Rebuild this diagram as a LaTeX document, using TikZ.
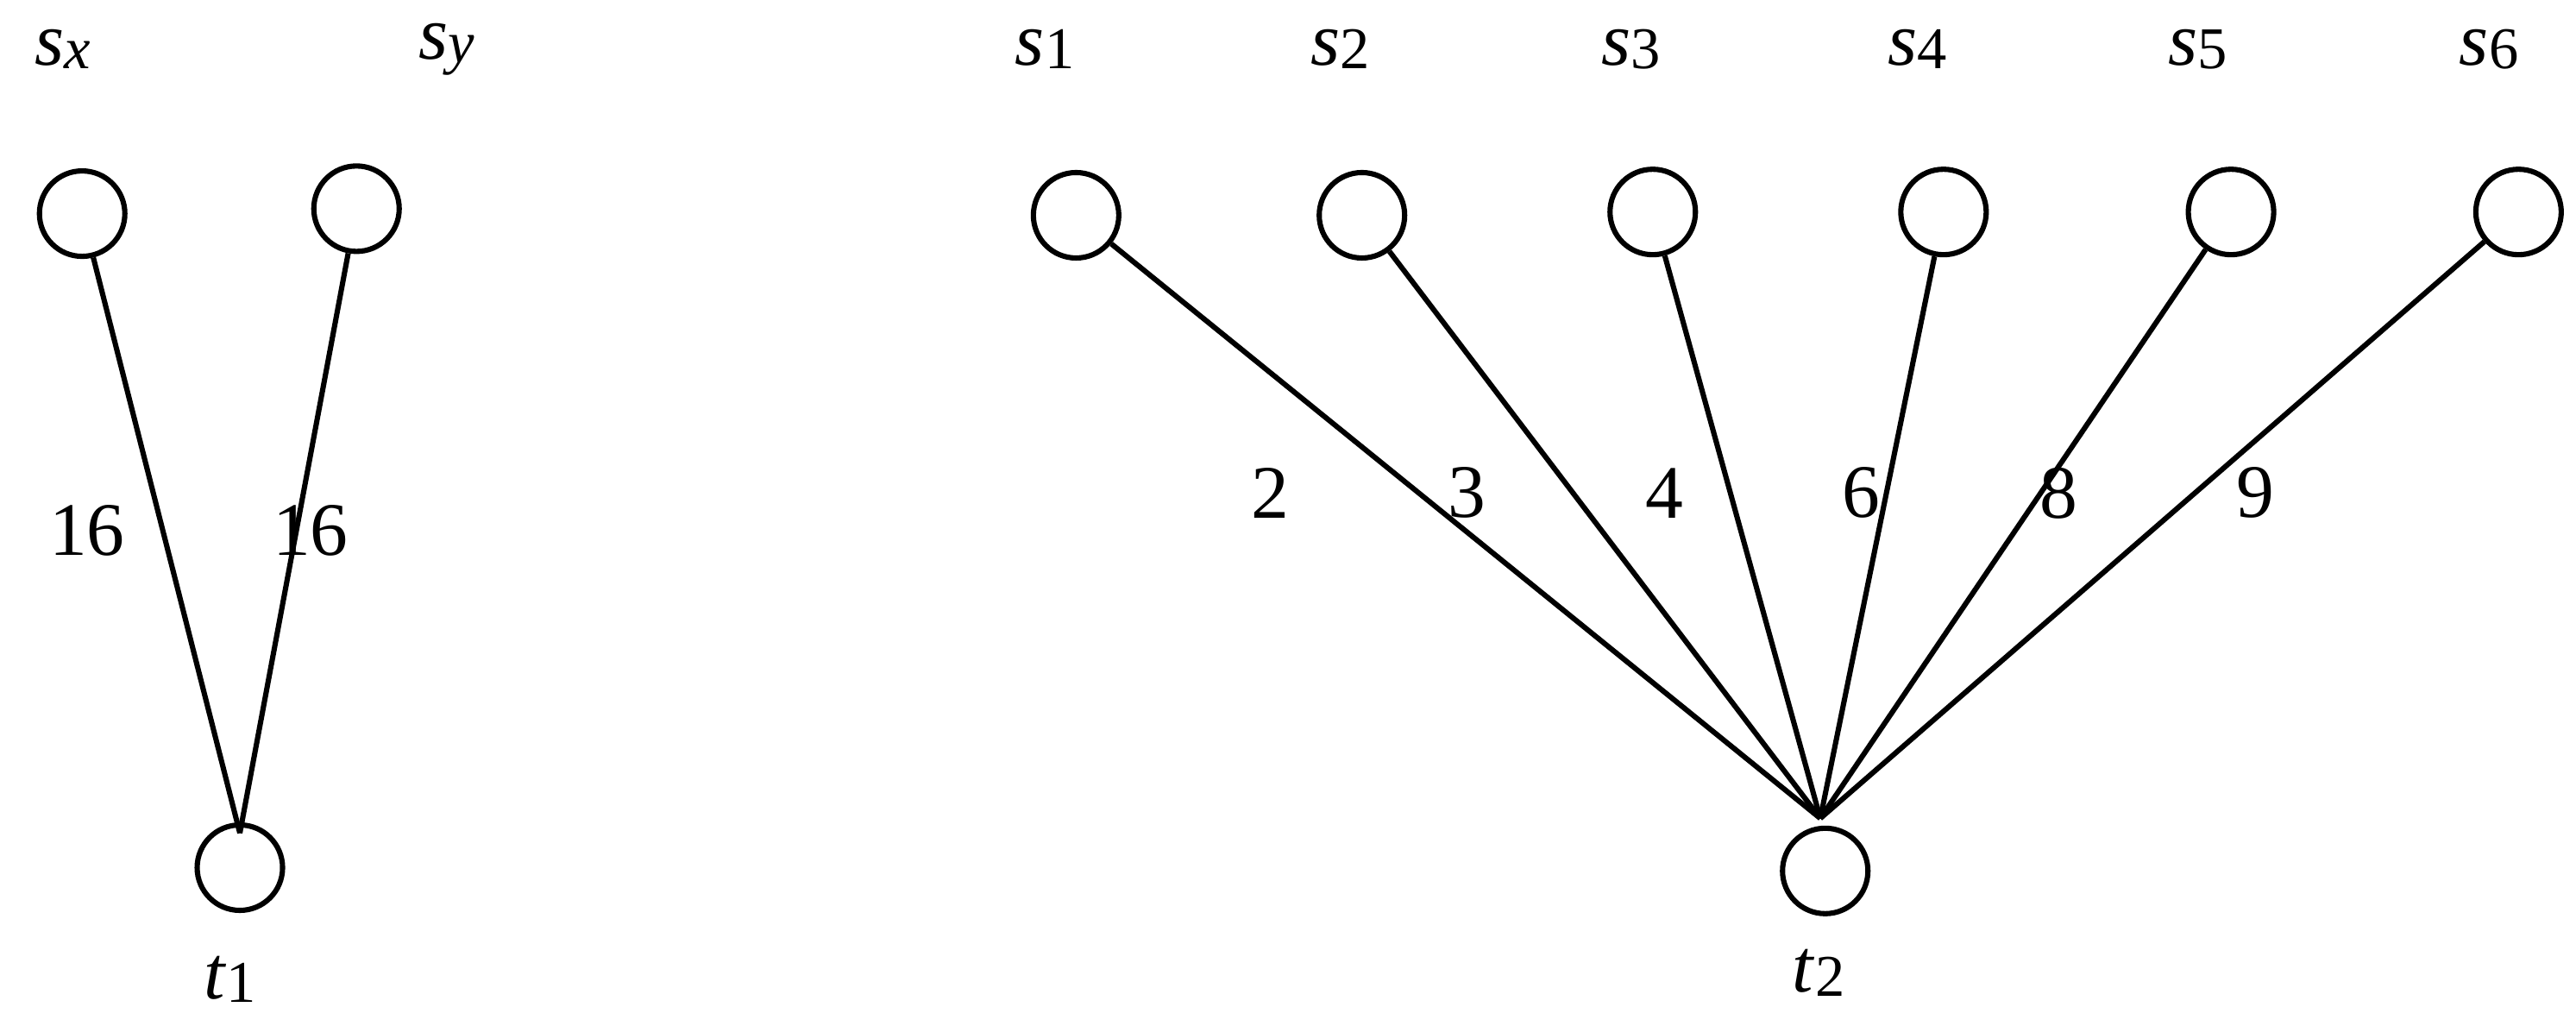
\documentclass[tikz,border=0pt]{standalone}
\usepackage{fontspec}
\setmainfont{Liberation Serif}
\newcommand{\lbl}[2]{\textit{#1}\raisebox{-0.05em}{\fontsize{36}{38}\selectfont #2}}
\begin{document}
\begin{tikzpicture}[x=1pt,y=-1pt,
  vtx/.style={circle,draw,line width=3.2pt,minimum size=52pt,inner sep=0pt},
  edge/.style={line width=3.2pt},
  txt/.style={font=\fontsize{46}{50}\selectfont,inner sep=0pt}]
\useasboundingbox (0,0) rectangle (1568,624);
\node[vtx] (sx) at (50,130) {};
\node[vtx] (sy) at (217,127) {};
\node[vtx] (t1) at (146,528) {};
\node[vtx] (s1) at (655,131) {};
\node[vtx] (s2) at (829,131) {};
\node[vtx] (s3) at (1006,129) {};
\node[vtx] (s4) at (1183,129) {};
\node[vtx] (s5) at (1358,129) {};
\node[vtx] (s6) at (1533,129) {};
\node[vtx] (t2) at (1111,530) {};
\coordinate (a1) at (146,507);
\coordinate (a2) at (1108,498);
\draw[edge] (sx) -- (a1);
\draw[edge] (sy) -- (a1);
\foreach \n in {s1,s2,s3,s4,s5,s6} \draw[edge] (\n) -- (a2);
\node[txt] (lx) at (38,30) {\lbl{s}{\textit{x}}};
\node[txt] (ly) at (272,30) {\lbl{s}{\textit{y}}};
\node[txt] (l1) at (636,30) {\lbl{s}{1}};
\node[txt] (l2) at (816,30) {\lbl{s}{2}};
\node[txt] (l3) at (993,30) {\lbl{s}{3}};
\node[txt] (l4) at (1167,30) {\lbl{s}{4}};
\node[txt] (l5) at (1338,30) {\lbl{s}{5}};
\node[txt] (l6) at (1515,30) {\lbl{s}{6}};
\node[txt] (lt1) at (140,596) {\lbl{t}{1}};
\node[txt] (lt2) at (1107,592) {\lbl{t}{2}};
\node[txt] (w1) at (53,323) {16};
\node[txt] (w2) at (189,323) {16};
\node[txt] (w3) at (773,300) {2};
\node[txt] (w4) at (893,300) {3};
\node[txt] (w5) at (1013,300) {4};
\node[txt] (w6) at (1133,300) {6};
\node[txt] (w7) at (1253,300) {8};
\node[txt] (w8) at (1373,300) {9};
\end{tikzpicture}
\end{document}
